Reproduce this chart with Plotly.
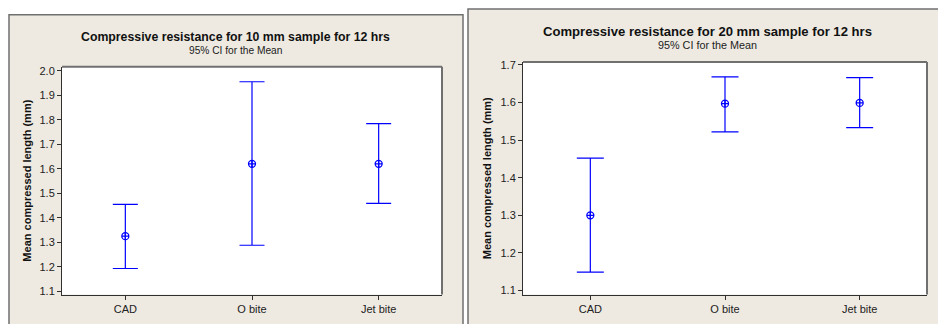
import plotly.graph_objects as go

W, H = 938, 324

categories = ["CAD", "O bite", "Jet bite"]

# Panel 1: 10 mm sample
mean_10 = [1.325, 1.62, 1.62]
upper_10 = [1.455, 1.955, 1.784]
lower_10 = [1.193, 1.288, 1.459]
yticks_10 = [1.1, 1.2, 1.3, 1.4, 1.5, 1.6, 1.7, 1.8, 1.9, 2.0]

# Panel 2: 20 mm sample
mean_20 = [1.30, 1.597, 1.599]
upper_20 = [1.452, 1.668, 1.666]
lower_20 = [1.149, 1.522, 1.533]
yticks_20 = [1.1, 1.2, 1.3, 1.4, 1.5, 1.6, 1.7]

title_10 = "Compressive resistance for 10 mm sample for 12 hrs"
title_20 = "Compressive resistance for 20 mm sample for 12 hrs"
subtitle = "95% CI for the Mean"
ytitle = "Mean compressed length (mm)"

BLUE = "#0000FF"
BEIGE = "#EEEAE1"
FONT = "Liberation Sans"

def px(x):
    return x / W

def py(y):
    return 1 - y / H

fig = go.Figure()

def add_series(mean, upper, lower, xa, ya, capw):
    fig.add_trace(go.Scatter(
        x=categories, y=mean, mode="markers",
        marker=dict(symbol="circle-cross-open", size=7, color=BLUE,
                    line=dict(width=1.3, color=BLUE)),
        error_y=dict(type="data", symmetric=False,
                     array=[u - m for u, m in zip(upper, mean)],
                     arrayminus=[m - l for m, l in zip(mean, lower)],
                     color=BLUE, thickness=1.2, width=capw),
        xaxis=xa, yaxis=ya, showlegend=False, hoverinfo="skip",
    ))

add_series(mean_10, upper_10, lower_10, "x", "y", 12.5)
add_series(mean_20, upper_20, lower_20, "x2", "y2", 13.5)

axis_common = dict(showgrid=False, zeroline=False, showline=True, mirror=False,
                   linecolor="#303030", linewidth=1, ticks="outside",
                   tickcolor="#303030", ticklen=4,
                   tickfont=dict(family=FONT, size=11, color="#222222"))

fig.update_layout(
    width=W, height=H,
    margin=dict(l=0, r=0, t=0, b=0),
    paper_bgcolor="white", plot_bgcolor="white",
    xaxis=dict(domain=[px(62), px(442)], type="category", range=[-0.5, 2.5],
               anchor="y", **axis_common),
    yaxis=dict(domain=[py(297), py(65)], range=[1.087, 2.016], anchor="x",
               tickvals=yticks_10, ticktext=[f"{v:.1f}" for v in yticks_10],
               title=dict(text=ytitle, standoff=5,
                          font=dict(family=FONT, size=11, color="#111111", weight="bold")),
               **axis_common),
    xaxis2=dict(domain=[px(523), px(927)], type="category", range=[-0.5, 2.5],
                anchor="y2", **axis_common),
    yaxis2=dict(domain=[py(297), py(60)], range=[1.0896, 1.708], anchor="x2",
                tickvals=yticks_20, ticktext=[f"{v:.1f}" for v in yticks_20],
                title=dict(text=ytitle, standoff=6,
                           font=dict(family=FONT, size=11, color="#111111", weight="bold")),
                **axis_common),
)

# Panel backgrounds
fig.add_shape(type="rect", xref="paper", yref="paper",
              x0=px(9), x1=px(463), y0=py(340), y1=py(12),
              fillcolor=BEIGE, line=dict(color="#707070", width=1.5), layer="below")
fig.add_shape(type="rect", xref="paper", yref="paper",
              x0=px(468), x1=px(960), y0=py(340), y1=py(6),
              fillcolor=BEIGE, line=dict(color="#707070", width=1.5), layer="below")

# White plot areas
for xd, yd in (("x domain", "y domain"), ("x2 domain", "y2 domain")):
    fig.add_shape(type="rect", xref=xd, yref=yd, x0=0, x1=1, y0=0, y1=1,
                  fillcolor="white", line=dict(width=0), layer="below")

# Plot-area borders: gray top & right
for xd, yd in (("x domain", "y domain"), ("x2 domain", "y2 domain")):
    fig.add_shape(type="line", xref=xd, yref=yd, x0=0, x1=1, y0=1, y1=1,
                  line=dict(color="#707070", width=2))
    fig.add_shape(type="line", xref=xd, yref=yd, x0=1, x1=1, y0=0, y1=1,
                  line=dict(color="#707070", width=2))

# Titles
def ann(text, x, y, size, color, bold=False):
    fig.add_annotation(text=f"<b>{text}</b>" if bold else text,
                       x=px(x), y=py(y), xref="paper", yref="paper",
                       xanchor="center", yanchor="middle", showarrow=False,
                       font=dict(family=FONT, size=size, color=color))

ann(title_10, 235, 35, 12.3, "#111111", bold=True)
ann(subtitle, 235, 48, 10.2, "#222222")
ann(title_20, 707.5, 29, 13.1, "#111111", bold=True)
ann(subtitle, 707.5, 43, 10.8, "#222222")

fig.write_html("out.html", config={"displayModeBar": False},
               post_script="document.body.style.margin='0';document.body.style.padding='0';")
